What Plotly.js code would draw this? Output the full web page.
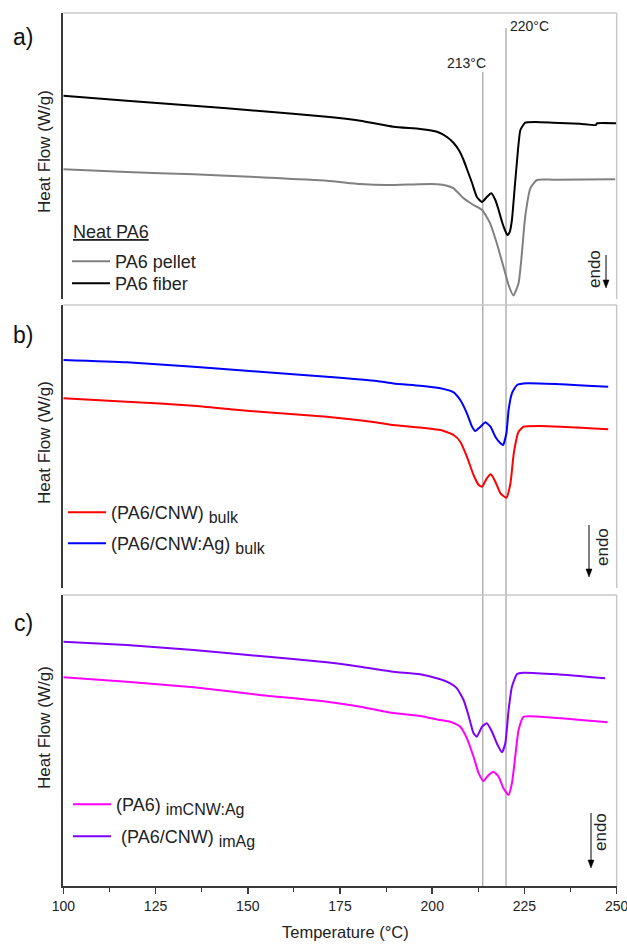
<!DOCTYPE html>
<html>
<head>
<meta charset="utf-8">
<script src="https://cdn.plot.ly/plotly-3.0.1.min.js"></script>
<style>html,body{margin:0;padding:0;background:#fff;}#chart{width:627px;height:944px;}</style>
</head>
<body>
<div id="chart"></div>
<script>
// ---- data (heat flow in arbitrary units, no ticks shown) ----
var aPelletT = [100,117.2,135.3,153.3,171.4,180.5,187.7,196.7,201.3,204,205.8,208.5,211.2,213.5,215.7,217.5,219.3,220.7,222.0,223.4,224.3,225.2,226.6,228.4,232.9,249.6];
var aPelletHF = [12.97,12.7,12.47,12.17,11.83,11.5,11.4,11.48,11.48,11.33,11.07,10.07,9.4,8.9,7.57,5.57,3.23,1.4,0.35,1.57,4.57,8.23,11.07,11.9,11.93,11.97];

var aFiberT = [100,117.2,135.3,153.3,171.4,180.5,189.5,196.7,201.3,204,205.8,207.2,208.5,209.7,210.8,212.1,213.5,214.8,216.0,217.1,218.0,218.9,219.7,220.4,221.0,221.6,222.3,223.0,223.9,225.2,228,232.8,240,244.4,244.6,250];
var aFiberHF = [20.33,19.83,19.33,18.8,18.23,17.83,17.23,17.0,16.73,16.2,15.6,14.9,13.9,12.7,11.6,10.2,9.7,10.2,10.57,9.9,8.9,7.73,6.9,6.4,6.7,7.9,10.9,13.9,16.9,17.63,17.7,17.63,17.53,17.4,17.57,17.57];

var bRedT = [100,117.2,135.3,146.1,153.3,171.4,185,189.5,196.7,202.2,205.8,207.6,209.4,211.2,212.6,213.5,214.8,215.9,217.1,218.5,220.1,221.2,222.1,223.4,224.8,229.3,247.7];
var bRedHF = [18.97,18.63,18.23,17.85,17.63,17.13,16.55,16.3,16.05,15.8,15.3,14.63,13.13,11.3,10.3,10.13,10.97,11.37,10.63,9.47,9.03,10.47,13.47,15.63,16.13,16.2,15.87];

var bBlueT = [100,117.2,135.3,153.3,171.4,185,189.5,196.7,202.2,205.8,207.6,209.4,210.8,211.7,213.1,214.4,215.8,217.1,218.5,219.2,220.1,220.7,221.6,223.0,225.7,247.7];
var bBlueHF = [22.8,22.57,22.13,21.63,21.13,20.7,20.45,20.23,19.97,19.57,18.8,17.47,16.13,15.7,16.13,16.57,16.13,15.13,14.47,14.3,15.47,17.8,19.47,20.3,20.47,20.13];

var cMagentaT = [100,117.2,135.3,153.3,171.4,180.5,189.5,196.7,202.2,204.9,207.6,209.4,211.2,212.6,213.9,215.3,216.6,218.0,219.3,220.7,221.6,222.5,223.4,224.8,229.3,247.5];
var cMagentaHF = [20.87,20.43,19.87,19.1,18.43,17.93,17.3,17.0,16.6,16.43,15.93,14.77,12.93,11.27,10.5,11.1,11.43,10.93,9.77,9.1,10.27,12.93,15.6,16.93,16.93,16.37];

var cPurpleT = [100,117.2,135.3,153.3,171.4,180.5,189.5,196.7,202.2,204.9,206.7,208.5,209.8,211.2,212.1,213.5,214.8,216.2,217.5,218.9,219.8,220.7,221.6,223.0,224.8,233.8,246.9];
var cPurpleHF = [24.43,24.1,23.6,23.0,22.37,21.93,21.43,21.17,20.67,20.27,19.77,18.6,17.1,15.27,14.93,15.93,16.27,15.43,14.27,13.37,14.27,17.6,19.93,21.2,21.33,21.17,20.77];

var peakLines = [213.7, 220];
var peakLabels = ['213°C', '220°C'];
var panelLabels = ['a)', 'b)', 'c)'];
var SUB = function(s){ return '<sub><span style="font-size:16px">' + s + '</span></sub>'; };
var seriesNames = ['PA6 pellet', 'PA6 fiber', '(PA6/CNW) ' + SUB('bulk'), '(PA6/CNW:Ag) ' + SUB('bulk'), '(PA6) ' + SUB('imCNW:Ag'), ' (PA6/CNW) ' + SUB('imAg')];
var legendTitleA = 'Neat PA6';
var xTitle = 'Temperature (°C)';
var yTitle = 'Heat Flow (W/g)';

// ---- layout helpers ----
var W = 627, H = 944;
function px(x){ return x / W; }
function py(y){ return 1 - y / H; }
var FONT = 'Liberation Sans, Arial, sans-serif';
var line = function(c){ return {color: c, width: 2, shape: 'spline', smoothing: 0.5}; };

var traces = [
  {x: aPelletT, y: aPelletHF, name: seriesNames[0], xaxis: 'x', yaxis: 'y', legend: 'legend', line: line('#808080'), mode: 'lines'},
  {x: aFiberT, y: aFiberHF, name: seriesNames[1], xaxis: 'x', yaxis: 'y', legend: 'legend2', line: line('#000000'), mode: 'lines'},
  {x: bRedT, y: bRedHF, name: seriesNames[2], xaxis: 'x', yaxis: 'y2', legend: 'legend3', line: line('#ff0000'), mode: 'lines'},
  {x: bBlueT, y: bBlueHF, name: seriesNames[3], xaxis: 'x', yaxis: 'y2', legend: 'legend4', line: line('#0000ff'), mode: 'lines'},
  {x: cMagentaT, y: cMagentaHF, name: seriesNames[4], xaxis: 'x', yaxis: 'y3', legend: 'legend5', line: line('#ff00ff'), mode: 'lines'},
  {x: cPurpleT, y: cPurpleHF, name: seriesNames[5], xaxis: 'x', yaxis: 'y3', legend: 'legend6', line: line('#8000ff'), mode: 'lines'}
];

// panel pixel boxes [top, bottom]
var panels = [[13, 299], [305, 588], [595, 886]];
var xL = 63.3, xR = 616.7;

function yax(p){
  var top = panels[p][0], bot = panels[p][1];
  return {
    domain: [py(bot), py(top)], anchor: 'x', range: [0, (bot - top) / 10],
    showticklabels: false, ticks: '', showgrid: false, zeroline: false,
    showline: true, linecolor: '#3a3a3a', linewidth: 2, fixedrange: true
  };
}

var shapes = [];
panels.forEach(function(p){
  shapes.push({type: 'line', xref: 'paper', yref: 'paper', x0: px(xL), x1: px(xR), y0: py(p[0]), y1: py(p[0]), line: {color: '#c8c8c8', width: 1.5}});
  shapes.push({type: 'line', xref: 'paper', yref: 'paper', x0: px(xR), x1: px(xR), y0: py(p[0]), y1: py(p[1]), line: {color: '#c8c8c8', width: 1.5}});
});
var peakTops = [72, 28];
peakLines.forEach(function(t, i){
  shapes.push({type: 'line', xref: 'x', yref: 'paper', x0: t, x1: t, y0: py(886), y1: py(peakTops[i]), line: {color: '#a0a0a0', width: 1.2}, layer: 'below'});
});

function ann(o){
  o.xref = 'paper'; o.yref = 'paper'; o.xanchor = o.xanchor || 'center'; o.yanchor = 'middle';
  o.showarrow = false;
  return o;
}
var annotations = [];
var labelY = [37, 335, 623];
panelLabels.forEach(function(l, i){
  annotations.push(ann({text: l, x: px(23), y: py(labelY[i]), font: {family: FONT, size: 23, color: '#111'}}));
});
var yTitleY = [152, 443, 728];
yTitleY.forEach(function(y){
  annotations.push(ann({text: yTitle, x: px(44), y: py(y), textangle: -90, font: {family: FONT, size: 17, color: '#222'}}));
});
annotations.push(ann({text: peakLabels[0], x: px(466), y: py(63), font: {family: FONT, size: 14, color: '#222'}}));
annotations.push(ann({text: peakLabels[1], x: px(529), y: py(26.5), font: {family: FONT, size: 14, color: '#222'}}));
annotations.push(ann({text: xTitle, x: px(345), y: py(932), font: {family: FONT, size: 16.5, color: '#222'}}));
annotations.push(ann({text: '<u>' + legendTitleA + '</u>', x: px(71), xanchor: 'left', y: py(232), font: {family: FONT, size: 18, color: '#222'}}));

// endo markers: [text x, text y, arrow x, arrow tail y, arrow head y]
var endo = [[595, 269, 606, 255, 288], [602, 547, 589, 525, 577], [600, 832, 591, 813, 868]];
endo.forEach(function(e){
  annotations.push(ann({text: 'endo', x: px(e[0]), y: py(e[1]), textangle: -90, font: {family: FONT, size: 17, color: '#222'}}));
  shapes.push({type: 'line', xref: 'paper', yref: 'paper', x0: px(e[2]), x1: px(e[2]), y0: py(e[3]), y1: py(e[4] - 6), line: {color: '#000', width: 1}});
  var tri = 'M' + px(e[2] - 3) + ',' + py(e[4] - 8) + ' L' + px(e[2] + 3) + ',' + py(e[4] - 8) + ' L' + px(e[2]) + ',' + py(e[4]) + ' Z';
  shapes.push({type: 'path', xref: 'paper', yref: 'paper', path: tri, fillcolor: '#000', line: {color: '#000', width: 0.5}});
});

var legFont = {family: FONT, size: 18, color: '#222'};
function leg(x, y){
  return {x: px(x), y: py(y), xanchor: 'left', yanchor: 'top', bgcolor: 'rgba(0,0,0,0)', font: legFont, itemwidth: 38};
}
var layout = {
  width: W, height: H,
  margin: {l: 0, r: 0, t: 0, b: 0},
  paper_bgcolor: '#fff', plot_bgcolor: 'rgba(0,0,0,0)',
  font: {family: FONT, color: '#222'},
  xaxis: {
    domain: [px(xL), px(xR)], anchor: 'y3', range: [100, 250], dtick: 25, tick0: 100,
    showgrid: false, zeroline: false, showline: true, linecolor: '#3a3a3a', linewidth: 2,
    ticks: 'outside', ticklen: 6, tickwidth: 1.5, tickcolor: '#3a3a3a', ticklabeloverflow: 'allow',
    minor: {dtick: 12.5, ticks: 'outside', ticklen: 4, tickwidth: 1.2, tickcolor: '#3a3a3a'},
    tickfont: {family: FONT, size: 14, color: '#222'}, fixedrange: true
  },
  yaxis: yax(0), yaxis2: yax(1), yaxis3: yax(2),
  legend: leg(67, 243), legend2: leg(67, 265),
  legend3: leg(63, 494), legend4: leg(63, 525),
  legend5: leg(68, 786), legend6: leg(68, 818),
  shapes: shapes,
  annotations: annotations,
  showlegend: true
};

Plotly.newPlot('chart', traces, layout, {staticPlot: true, displayModeBar: false});
</script>
</body>
</html>
